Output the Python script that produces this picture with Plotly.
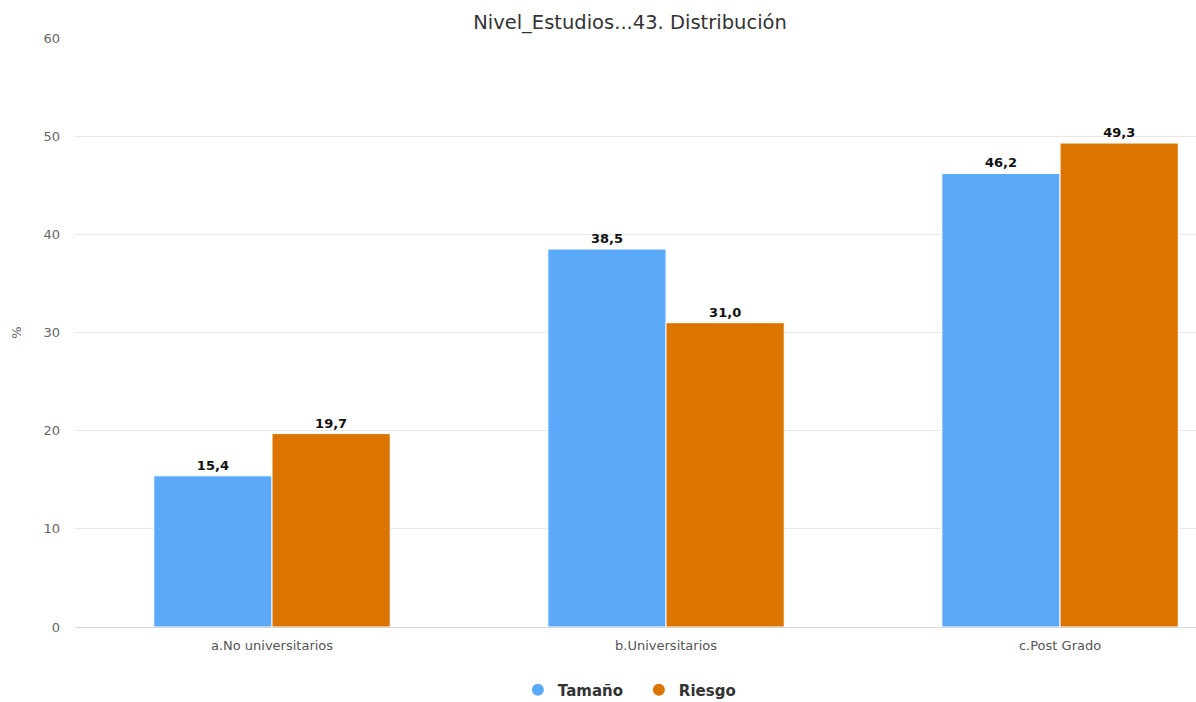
import plotly.graph_objects as go

categories = ["a.No universitarios", "b.Universitarios", "c.Post Grado"]
tamano = [15.4, 38.5, 46.2]
riesgo = [19.7, 31.0, 49.3]
series_names = ["Tamaño", "Riesgo"]
colors = ["#5aaaf9", "#dc7400"]
y_ticks = [0, 10, 20, 30, 40, 50, 60]

font_family = "DejaVu Sans, Verdana, sans-serif"

fig = go.Figure()
for name, vals, col in zip(series_names, [tamano, riesgo], colors):
    fig.add_trace(go.Bar(
        x=categories, y=vals, name=name,
        marker=dict(color=col, line=dict(color="white", width=1)),
        text=[f"{v:.1f}".replace(".", ",") for v in vals],
        textposition="outside",
        textfont=dict(family=font_family, size=13, color="#111111", weight="bold"),
        cliponaxis=False,
        showlegend=False,
    ))
    # legend entry with a round symbol
    fig.add_trace(go.Scatter(
        x=[None], y=[None], mode="markers", name=name,
        marker=dict(color=col, size=14, symbol="circle"),
        showlegend=True,
    ))

fig.update_layout(
    width=1196, height=702,
    margin=dict(l=75, r=0, t=38, b=75, autoexpand=False),
    paper_bgcolor="white", plot_bgcolor="white",
    separators=",.",
    barmode="group", bargap=0.4, bargroupgap=0.0,
    font=dict(family=font_family, color="#666666", size=13),
    title=dict(
        text="Nivel_Estudios...43. Distribución",
        x=630 / 1196, xanchor="center", xref="container",
        y=1 - 22 / 702, yanchor="middle", yref="container",
        font=dict(family=font_family, size=19.5, color="#333333"),
    ),
    legend=dict(
        orientation="h", x=0.503, xanchor="center", xref="paper",
        y=-0.107, yanchor="middle",
        font=dict(family=font_family, size=15, color="#333333", weight="bold"),
        itemsizing="constant",
        entrywidth=76,
    ),
    xaxis=dict(
        range=[-0.5, 2.345],
        showgrid=False, showline=True, linecolor="#d8d8d8", linewidth=1,
        tickfont=dict(size=13, color="#555555"),
        ticks="outside", ticklen=6, tickcolor="rgba(0,0,0,0)",
    ),
    yaxis=dict(
        range=[0, 60], tickvals=y_ticks,
        showgrid=True, gridcolor="#e8e8e8", gridwidth=1,
        zeroline=False,
        ticklabelstandoff=14,
        tickfont=dict(size=13, color="#666666"),
        title=dict(text="%", font=dict(size=13, color="#666666"), standoff=18),
    ),
)

fig.write_html("out.html")
